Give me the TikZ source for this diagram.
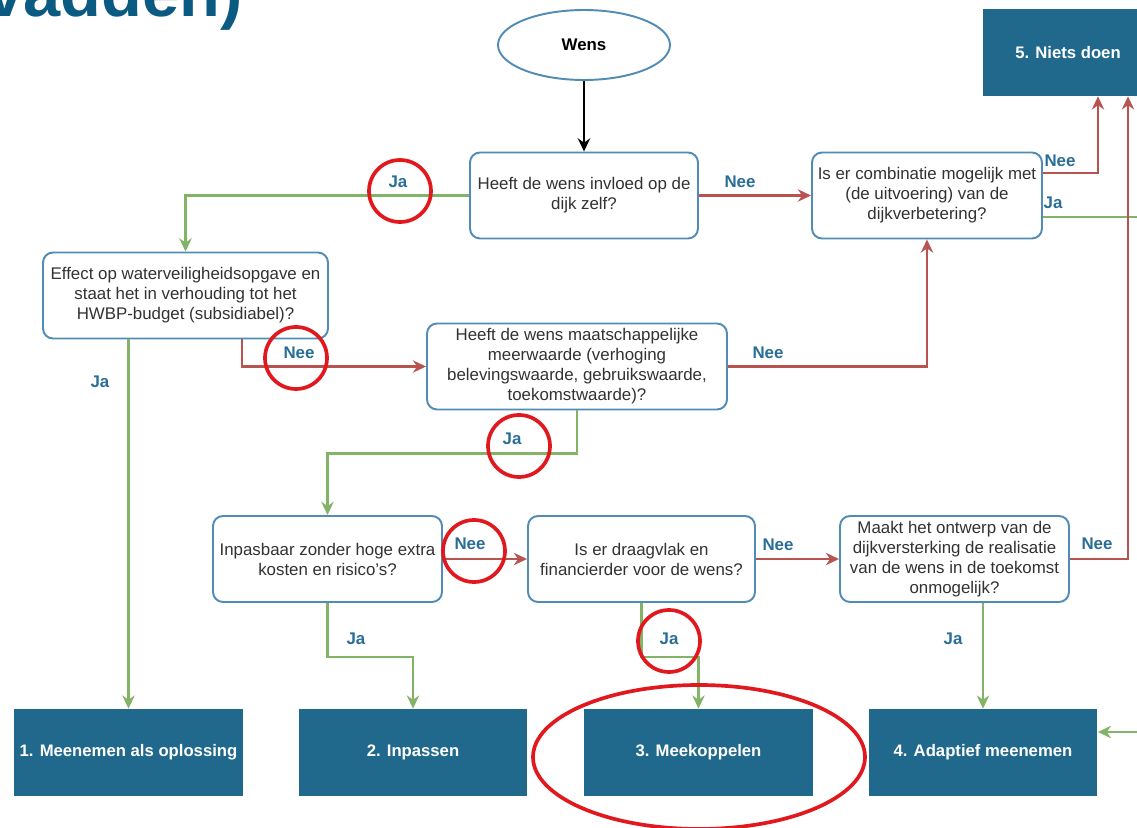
\documentclass[tikz,border=0pt]{standalone}
\usepackage{fontspec}
\setmainfont{Liberation Sans}
\usetikzlibrary{arrows.meta,shapes.geometric}
\definecolor{vraagrand}{RGB}{80,140,180}
\definecolor{uitkomst}{RGB}{33,105,140}
\definecolor{labelblauw}{RGB}{40,110,150}
\definecolor{jagroen}{RGB}{130,179,102}
\definecolor{neerood}{RGB}{184,84,80}
\definecolor{cirkelrood}{RGB}{225,25,30}
\definecolor{titelblauw}{RGB}{10,90,130}
\definecolor{tekst}{RGB}{50,50,50}
\begin{document}
\begin{tikzpicture}[x=0.02cm,y=-0.02cm,
    vraag/.style={shape=rectangle,rounded corners=0.2cm,draw=vraagrand,line width=1.1pt,fill=white,align=center,text=tekst,font=\fontsize{9.6}{11.4}\selectfont,minimum height=1.72cm,inner sep=2pt},
    uit/.style={shape=rectangle,fill=uitkomst,text=white,font=\bfseries\fontsize{9.5}{11.4}\selectfont,minimum width=4.58cm,minimum height=1.74cm,inner sep=1pt},
    lbl/.style={text=labelblauw,font=\bfseries\fontsize{9.6}{11.4}\selectfont,inner sep=0pt},
    ja/.style={draw=jagroen,line width=1.6pt,-{Stealth[length=7.5pt,width=7pt]}},
    nee/.style={draw=neerood,line width=1.6pt,-{Stealth[length=7.5pt,width=7pt]}},
    ring/.style={draw=cirkelrood,line width=2.1pt},
]
    \useasboundingbox (0,0) rectangle (1137,828);
    \node[anchor=base west,text=titelblauw,font=\bfseries\fontsize{38}{40}\selectfont,inner sep=0pt] (titel) at (-14,17) {vadden)};
    % vragen
    \node[shape=ellipse,draw=vraagrand,line width=1.1pt,minimum width=3.44cm,minimum height=1.4cm,inner sep=0pt,font=\bfseries\fontsize{9.6}{11.4}\selectfont] (wens) at (584,45) {Wens};
    \node[vraag,minimum width=4.56cm] (invloed) at (584,195.5) {Heeft de wens invloed op de\\dijk zelf?};
    \node[vraag,minimum width=4.6cm] (combi) at (927,195.5) {Is er combinatie mogelijk met\\(de uitvoering) van de\\dijkverbetering?};
    \node[vraag,minimum width=5.7cm] (effect) at (185.5,295.5) {Effect op waterveiligheidsopgave en\\staat het in verhouding tot het\\HWBP-budget (subsidiabel)?};
    \node[vraag,minimum width=6cm] (meerwaarde) at (577,366.5) {Heeft de wens maatschappelijke\\meerwaarde (verhoging\\belevingswaarde, gebruikswaarde,\\toekomstwaarde)?};
    \node[vraag,minimum width=4.58cm] (inpasbaar) at (327.5,559) {Inpasbaar zonder hoge extra\\kosten en risico's?};
    \node[vraag,minimum width=4.54cm] (draagvlak) at (641.5,559) {Is er draagvlak en\\financierder voor de wens?};
    \node[vraag,minimum width=4.58cm] (ontwerp) at (954.5,559) {Maakt het ontwerp van de\\dijkversterking de realisatie\\van de wens in de toekomst\\onmogelijk?};
    % uitkomsten
    \node[uit] (oplossing) at (128.5,752.5) {1. Meenemen als oplossing};
    \node[uit] (inpassen) at (413,752.5) {2. Inpassen};
    \node[uit] (meekoppelen) at (698.5,752.5) {3. Meekoppelen};
    \node[uit] (adaptief) at (983,752.5) {4. Adaptief meenemen};
    \node[uit,minimum width=3.4cm] (niets) at (1068,52.5) {5. Niets doen};
    \coordinate (rail) at (1150,450);
    % pijlen
    \draw[black,line width=1.4pt,-{Stealth[length=7.5pt,width=7pt]}] (wens) -- (invloed);
    \draw[ja] (invloed.west) -| (effect.north);
    \draw[nee] (invloed.east) -- (combi.west);
    \draw[nee] ([yshift=0.45cm]combi.east) -| ([xshift=0.6cm]niets.south);
    \draw[ja] ([yshift=-0.43cm]combi.east) -| (rail) |- ([yshift=0.41cm]adaptief.east);
    \draw[ja] (effect.south -| oplossing.north) -- (oplossing.north);
    \draw[nee] ([xshift=1.13cm]effect.south) |- (meerwaarde.west);
    \draw[nee] (meerwaarde.east) -| (combi.south);
    \draw[ja] (meerwaarde.south) -- ++(0,43) -| (inpasbaar.north);
    \draw[nee] (inpasbaar.east) -- (draagvlak.west);
    \draw[ja] (inpasbaar.south) -- ++(0,54) -| (inpassen.north);
    \draw[nee] (draagvlak.east) -- (ontwerp.west);
    \draw[ja] (draagvlak.south) -- ++(0,54) -| (meekoppelen.north);
    \draw[ja] (ontwerp.south -| adaptief.north) -- (adaptief.north);
    \draw[nee] (ontwerp.east) -| ([xshift=1.2cm]niets.south);
    % ja/nee
    \node[lbl] (ja1) at (398,182) {Ja};
    \node[lbl] (nee1) at (740,182) {Nee};
    \node[lbl] (nee2) at (1060,161) {Nee};
    \node[lbl] (ja2) at (1053,203) {Ja};
    \node[lbl] (ja3) at (100,382) {Ja};
    \node[lbl] (nee3) at (299,353) {Nee};
    \node[lbl] (nee4) at (768,353) {Nee};
    \node[lbl] (ja4) at (512,439) {Ja};
    \node[lbl] (nee5) at (470,544) {Nee};
    \node[lbl] (ja5) at (356,639) {Ja};
    \node[lbl] (nee6) at (778,545) {Nee};
    \node[lbl] (ja6) at (669,639) {Ja};
    \node[lbl] (nee7) at (1097,544) {Nee};
    \node[lbl] (ja7) at (953,639) {Ja};
    % rode cirkels
    \draw[ring] (400,191) circle[radius=31];
    \draw[ring] (296,358) circle[radius=31];
    \draw[ring] (519,446) circle[radius=31];
    \draw[ring] (474,551) circle[radius=31];
    \draw[ring] (669,641) circle[radius=31];
    \draw[ring] (699,757) ellipse[x radius=166,y radius=72];
\end{tikzpicture}
\end{document}
